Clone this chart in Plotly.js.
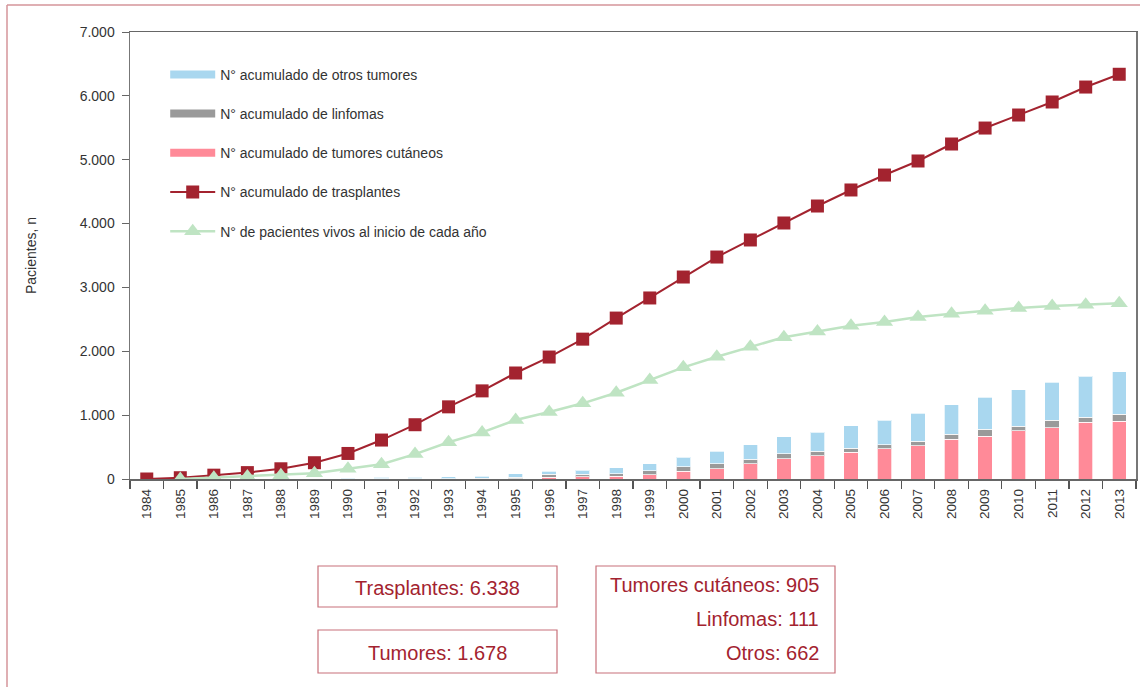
<!DOCTYPE html>
<html>
<head>
<meta charset="utf-8">
<script src="https://cdn.plot.ly/plotly-3.0.1.min.js"></script>
<style>
html,body{margin:0;padding:0;background:#fff;}
#chart{width:1140px;height:687px;}
</style>
</head>
<body>
<div id="chart"></div>
<script>
// ---- Data ----
var years = ["1984","1985","1986","1987","1988","1989","1990","1991","1992","1993",
             "1994","1995","1996","1997","1998","1999","2000","2001","2002","2003",
             "2004","2005","2006","2007","2008","2009","2010","2011","2012","2013"];

var tumoresCutaneos = [0,0,0,0,0,0,0,0,0,0,
                       2,4,31,33,42,68,120,157,235,318,
                       365,418,470,522,621,673,752,799,890,905];

var linfomas = [0,0,0,0,0,0,2,3,4,5,
                6,20,42,40,42,62,73,78,78,74,
                68,67,68,68,78,105,78,125,76,111];

var otrosTumores = [0,0,0,0,0,0,20,22,25,30,
                    32,60,47,68,93,110,151,198,225,271,
                    298,350,381,438,460,501,564,590,642,662];

var trasplantes = [0,20,60,100,160,255,400,610,850,1130,
                   1380,1660,1910,2190,2520,2835,3163,3476,3743,4009,
                   4275,4526,4760,4980,5246,5496,5700,5904,6138,6338];

var vivos = [null,0,20,40,60,90,160,230,390,575,
             730,924,1050,1185,1351,1550,1749,1915,2072,2219,
             2310,2400,2458,2537,2589,2636,2678,2709,2730,2751];

var seriesNames = ["N° acumulado de otros tumores",
                   "N° acumulado de linfomas",
                   "N° acumulado de tumores cutáneos",
                   "N° acumulado de trasplantes",
                   "N° de pacientes vivos al inicio de cada año"];

var yAxisTitle = "Pacientes, n";

// ---- Styling ----
var SANS = '"Liberation Sans", Arial, sans-serif';
var C_BLUE = '#a9d7ef', C_GRAY = '#9a9a9a', C_PINK = '#ff8a98';
var C_RED = '#a3232f', C_GREEN = '#bfe4c3', C_TEXT = '#a3232f', C_BOX = '#c8717a';

function fmt(n){ return String(n).replace(/\B(?=(\d{3})+(?!\d))/g, '.'); }
var last = years.length - 1;
var totTumores = tumoresCutaneos[last] + linfomas[last] + otrosTumores[last];

var barLine = {color:'rgba(255,255,255,0.7)', width:1};
var barCommon = {type:'bar', x:years, width:0.43, showlegend:false, hoverinfo:'skip'};

var traces = [
  Object.assign({}, barCommon, {name:seriesNames[2], y:tumoresCutaneos, marker:{color:C_PINK, line:barLine}}),
  Object.assign({}, barCommon, {name:seriesNames[1], y:linfomas, marker:{color:C_GRAY, line:barLine}}),
  Object.assign({}, barCommon, {name:seriesNames[0], y:otrosTumores, marker:{color:C_BLUE, line:barLine}}),
  // legend entries for the bar series (wide swatches)
  {type:'scatter', mode:'lines', x:[null], y:[null], name:seriesNames[0], legendgroup:'g1',
     line:{color:C_BLUE, width:8}, hoverinfo:'skip'},
  {type:'scatter', mode:'lines', x:[null], y:[null], name:seriesNames[1], legendgroup:'g2',
     line:{color:C_GRAY, width:8}, hoverinfo:'skip'},
  {type:'scatter', mode:'lines', x:[null], y:[null], name:seriesNames[2], legendgroup:'g3',
     line:{color:C_PINK, width:8}, hoverinfo:'skip'},
  {type:'scatter', mode:'lines+markers', x:years, y:trasplantes, name:seriesNames[3], legendgroup:'g4',
     line:{color:C_RED, width:2}, marker:{symbol:'square', size:13, color:C_RED}},
  {type:'scatter', mode:'lines+markers', x:years, y:vivos, name:seriesNames[4], legendgroup:'g5',
     line:{color:C_GREEN, width:2.5}, marker:{symbol:'triangle-up', size:15, color:C_GREEN}}
];

function px(xp){ return (xp - 130) / 1006; }
function py(yp){ return (479 - yp) / 447; }

var shapes = [
  {type:'line', xref:'paper', yref:'paper', x0:px(7), x1:px(1145), y0:py(5), y1:py(5),
   line:{color:'#d4959a', width:1.5}},
  {type:'line', xref:'paper', yref:'paper', x0:px(7), x1:px(7), y0:py(5), y1:py(690),
   line:{color:'#d4959a', width:1.5}},
  {type:'rect', xref:'paper', yref:'paper', x0:px(318), x1:px(557), y0:py(566), y1:py(607),
   line:{color:C_BOX, width:1.2}},
  {type:'rect', xref:'paper', yref:'paper', x0:px(318), x1:px(557), y0:py(630), y1:py(673),
   line:{color:C_BOX, width:1.2}},
  {type:'rect', xref:'paper', yref:'paper', x0:px(596), x1:px(835), y0:py(566), y1:py(673),
   line:{color:C_BOX, width:1.2}}
];

var boxFont = {family:SANS, size:20, color:C_TEXT};
var annotations = [
  {xref:'paper', yref:'paper', x:px(437), y:py(588), text:'Trasplantes: ' + fmt(trasplantes[last]),
   showarrow:false, xanchor:'center', yanchor:'middle', font:boxFont},
  {xref:'paper', yref:'paper', x:px(437), y:py(653), text:'Tumores: ' + fmt(totTumores),
   showarrow:false, xanchor:'center', yanchor:'middle', font:boxFont},
  {xref:'paper', yref:'paper', x:px(821), y:py(585), text:'Tumores cutáneos: ' + fmt(tumoresCutaneos[last]),
   showarrow:false, xanchor:'right', yanchor:'middle', font:boxFont},
  {xref:'paper', yref:'paper', x:px(821), y:py(619), text:'Linfomas: ' + fmt(linfomas[last]),
   showarrow:false, xanchor:'right', yanchor:'middle', font:boxFont},
  {xref:'paper', yref:'paper', x:px(821), y:py(653), text:'Otros: ' + fmt(otrosTumores[last]),
   showarrow:false, xanchor:'right', yanchor:'middle', font:boxFont}
];

var layout = {
  width:1140, height:687,
  margin:{l:130, r:4, t:32, b:208},
  paper_bgcolor:'#fff', plot_bgcolor:'#fff',
  separators:',.',
  barmode:'stack',
  showlegend:true,
  legend:{x:0.035, y:0.94, xanchor:'left', yanchor:'top', bgcolor:'rgba(0,0,0,0)',
          font:{family:SANS, size:14, color:'#333'}, traceorder:'grouped',
          tracegroupgap:18, itemwidth:45},
  xaxis:{type:'category', range:[-0.5, 29.5], tickson:'boundaries', ticks:'outside', ticklen:8,
         tickcolor:'#555', tickwidth:1.2, tickangle:-90, showgrid:false, zeroline:false,
         showline:true, linecolor:'#666', linewidth:1.5, mirror:true, ticklabelstandoff:3,
         tickfont:{family:SANS, size:13.5, color:'#333'}},
  yaxis:{range:[0,7000], dtick:1000, tickformat:',d', ticks:'outside', ticklen:7,
         tickcolor:'#666', showgrid:false, zeroline:false, showline:true, linecolor:'#777',
         linewidth:1.5, mirror:true, ticklabelstandoff:4,
         tickfont:{family:SANS, size:14, color:'#333'},
         title:{text:yAxisTitle, standoff:40, font:{family:SANS, size:14, color:'#333'}}},
  shapes:shapes,
  annotations:annotations
};

Plotly.newPlot('chart', traces, layout, {displayModeBar:false, staticPlot:true});
</script>
</body>
</html>
